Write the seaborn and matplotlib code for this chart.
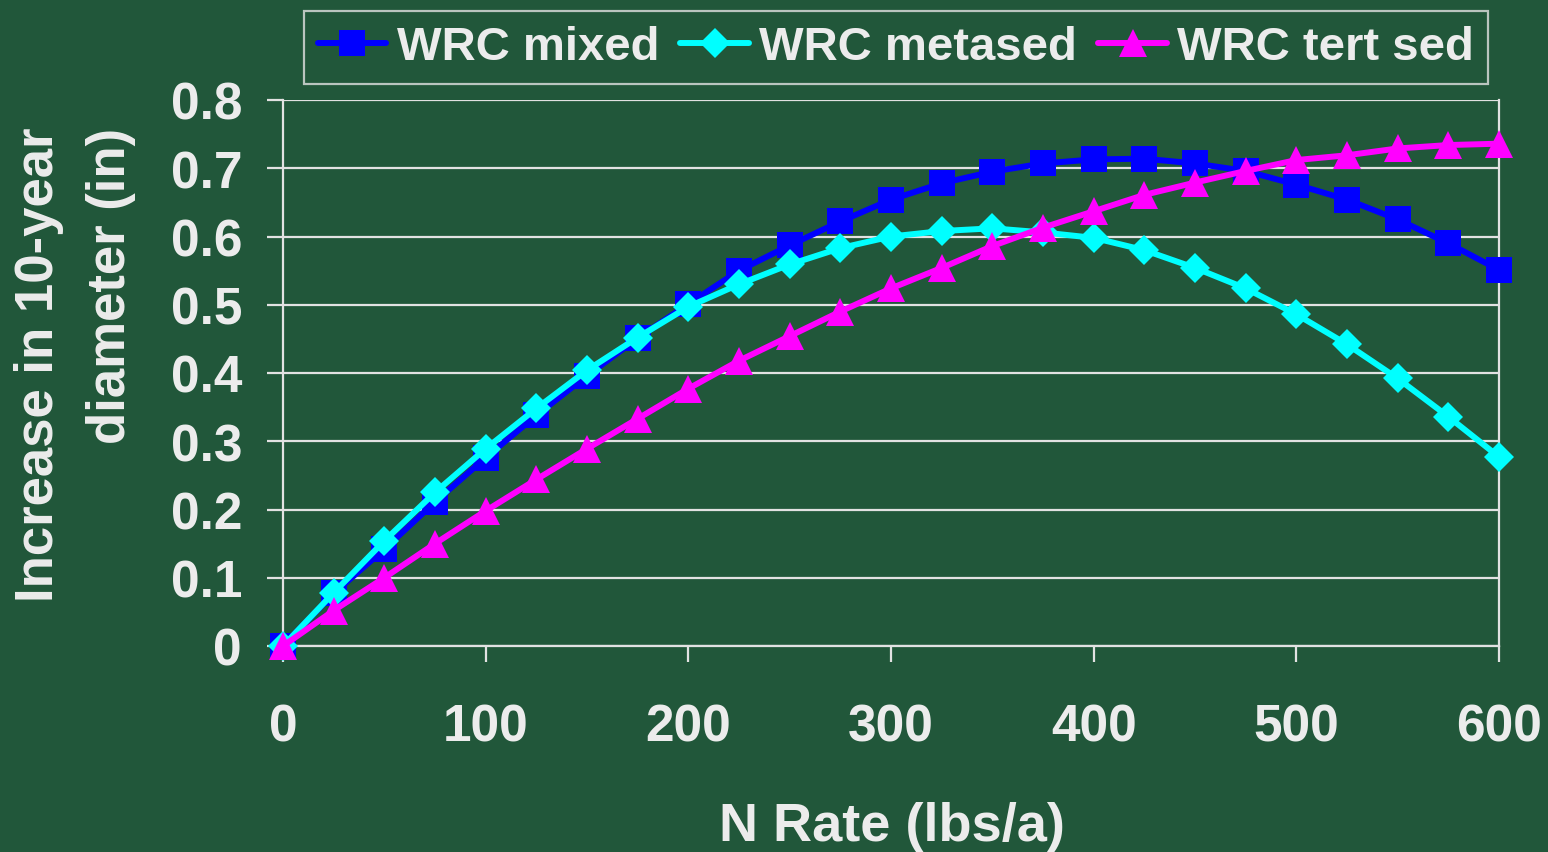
import matplotlib
matplotlib.use("Agg")
import matplotlib.pyplot as plt
import seaborn as sns
import pandas as pd

# N application rates (lbs/acre)
n_rate = [0, 25, 50, 75, 100, 125, 150, 175, 200, 225, 250, 275, 300,
          325, 350, 375, 400, 425, 450, 475, 500, 525, 550, 575, 600]

# Increase in 10-year diameter (in) by site type
wrc_mixed = [0.000, 0.077, 0.142, 0.211, 0.276, 0.338, 0.396, 0.451, 0.501,
             0.550, 0.587, 0.622, 0.654, 0.678, 0.695, 0.707, 0.713, 0.714,
             0.707, 0.696, 0.676, 0.654, 0.625, 0.590, 0.551]
wrc_metased = [0.000, 0.078, 0.154, 0.225, 0.289, 0.348, 0.404, 0.452, 0.497,
               0.530, 0.559, 0.583, 0.600, 0.608, 0.612, 0.606, 0.598, 0.580,
               0.554, 0.524, 0.486, 0.442, 0.392, 0.336, 0.277]
wrc_tert_sed = [0.000, 0.052, 0.100, 0.150, 0.198, 0.244, 0.289, 0.333, 0.377,
                0.418, 0.454, 0.490, 0.524, 0.554, 0.586, 0.613, 0.637, 0.661,
                0.679, 0.696, 0.712, 0.719, 0.729, 0.734, 0.736]

series_names = ["WRC mixed", "WRC metased", "WRC tert sed"]
x_ticks = [0, 100, 200, 300, 400, 500, 600]
y_ticks = [0.0, 0.1, 0.2, 0.3, 0.4, 0.5, 0.6, 0.7, 0.8]
y_tick_labels = ["0", "0.1", "0.2", "0.3", "0.4", "0.5", "0.6", "0.7", "0.8"]

df = pd.DataFrame({
    "N Rate": n_rate * 3,
    "Increase": wrc_mixed + wrc_metased + wrc_tert_sed,
    "Site": [series_names[0]] * len(n_rate)
            + [series_names[1]] * len(n_rate)
            + [series_names[2]] * len(n_rate),
})

BG = "#21573a"
TXT = "#ececec"
GRID = "#e2e2e2"

sns.set_theme(style="white")
plt.rcParams["font.family"] = ["Liberation Sans", "DejaVu Sans"]
plt.rcParams["font.weight"] = "bold"

fig = plt.figure(figsize=(15.48, 8.53), dpi=100, facecolor=BG)
ax = fig.add_axes([283 / 1548, 1 - 647 / 853, (1499 - 283) / 1548, (647 - 101) / 853])
ax.set_facecolor("none")

styles = {
    "WRC mixed": dict(color="#0000ff", marker="s", markersize=18.5),
    "WRC metased": dict(color="#00ffff", marker="D", markersize=15.5),
    "WRC tert sed": dict(color="#ff00ff", marker="^", markersize=20.5),
}

for i, name in enumerate(series_names):
    st = styles[name]
    sns.lineplot(data=df[df["Site"] == name], x="N Rate", y="Increase",
                 ax=ax, color=st["color"], marker=st["marker"],
                 markersize=st["markersize"], markeredgewidth=0,
                 markeredgecolor=st["color"], linewidth=4.3,
                 label=name, clip_on=False, zorder=3 + i)

ax.set_xlim(0, 600)
ax.set_ylim(0, 0.8)
ax.set_xticks(x_ticks)
ax.set_yticks(y_ticks)
ax.set_yticklabels(y_tick_labels)
ax.set_xlabel("")
ax.set_ylabel("")

# horizontal gridlines only
ax.grid(axis="y", color=GRID, linewidth=1.6, zorder=1)
ax.grid(axis="x", visible=False)
ax.set_axisbelow(True)
for side in ["left", "right", "bottom"]:
    ax.spines[side].set_visible(True)
    ax.spines[side].set_color(GRID)
    ax.spines[side].set_linewidth(1.6)
ax.spines["top"].set_visible(False)

ax.tick_params(axis="x", direction="out", length=11.5, width=1.6,
               color=GRID, pad=29, labelsize=37, labelcolor=TXT, bottom=True)
ax.tick_params(axis="y", direction="out", length=11.5, width=1.6,
               color=GRID, pad=18, labelsize=37, labelcolor=TXT, left=True)
for lbl in ax.get_xticklabels() + ax.get_yticklabels():
    lbl.set_fontweight("bold")

# axis titles
fig.text(892 / 1548, 1 - 841.5 / 853, "N Rate (lbs/a)", ha="center",
         va="baseline", fontsize=39, fontweight="bold", color=TXT)
fig.text(75 / 1548, 1 - 365 / 853, "Increase in 10-year\ndiameter (in)",
         rotation=90, ha="center", va="center", multialignment="right",
         fontsize=38, fontweight="bold", color=TXT, linespacing=1.55)

ax.get_legend().remove()
handles, labels = ax.get_legend_handles_labels()
leg = fig.legend(handles, labels, loc="center", ncol=3,
                 bbox_to_anchor=(896 / 1548, 1 - 48.5 / 853),
                 fontsize=34, frameon=True, fancybox=False,
                 handlelength=1.45, handletextpad=0.22, columnspacing=0.45,
                 borderpad=0.3, borderaxespad=0)
leg.get_frame().set_facecolor("none")
leg.get_frame().set_edgecolor(GRID)
leg.get_frame().set_linewidth(1.6)
for t in leg.get_texts():
    t.set_color(TXT)
    t.set_fontweight("bold")

fig.savefig("out.png", dpi=100, facecolor=BG)
